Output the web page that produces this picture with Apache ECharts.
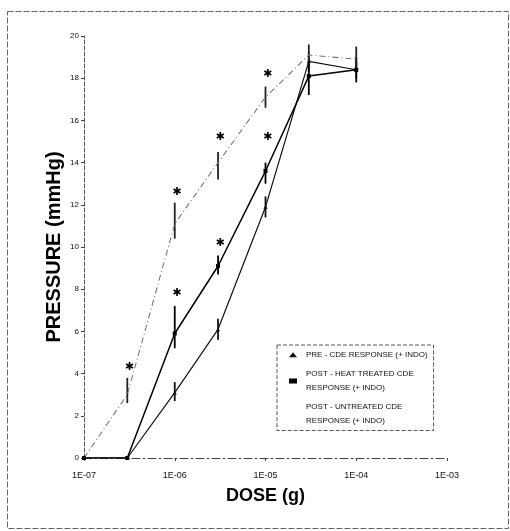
<!DOCTYPE html>
<html><head><meta charset="utf-8">
<script src="https://cdn.jsdelivr.net/npm/echarts@6/dist/echarts.min.js"></script>
<style>html,body{margin:0;padding:0;background:#fff}#c{width:510px;height:531px}</style>
</head><body><div id="c"></div>
<script>
// ---- data ----
const doses = [1e-7, 3e-7, 1e-6, 3e-6, 1e-5, 3e-5, 1e-4];
const xTickLabels = { '-7': '1E-07', '-6': '1E-06', '-5': '1E-05', '-4': '1E-04', '-3': '1E-03' };
const namePre = 'PRE - CDE RESPONSE (+ INDO)';
const nameHeat = 'POST - HEAT TREATED CDE\nRESPONSE (+ INDO)';
const nameUntreated = 'POST - UNTREATED CDE\nRESPONSE (+ INDO)';

const preMean = [0, 0, 3.1, 6.1, 11.9, 18.8, 18.4];
const preLow  = [null, null, 2.7, 5.6, 11.4, 18.3, 18.0];
const preHigh = [null, null, 3.6, 6.6, 12.4, 19.2, 18.8];

const heatMean = [0, 0, 5.9, 9.1, 13.6, 18.1, 18.4];
const heatLow  = [null, null, 5.2, 8.7, 13.0, 17.2, 17.8];
const heatHigh = [null, null, 7.2, 9.6, 14.0, 18.9, 19.0];

const untrMean = [0, 3.0, 11.1, 14.0, 17.1, 19.1, 18.9];
const untrLow  = [null, 2.6, 10.4, 13.2, 16.6, 18.7, 18.3];
const untrHigh = [null, 3.8, 12.1, 14.5, 17.6, 19.6, 19.5];

const starDose  = [3e-7, 1e-6, 1e-6, 3e-6, 3e-6, 1e-5, 1e-5];
const starValue = [4.3, 12.6, 7.8, 15.2, 10.2, 18.2, 15.2];

// ---- helpers ----
const pairs = (m) => doses.map((d, i) => [d, m[i]]);
const errData = (lo, hi) => doses.map((d, i) => [d, lo[i], hi[i]]).filter(r => r[1] != null);
function errSeries(lo, hi, color) {
  return {
    type: 'custom', data: errData(lo, hi), silent: true, z: 3,
    renderItem: function (params, api) {
      const p1 = api.coord([api.value(0), api.value(1)]);
      const p2 = api.coord([api.value(0), api.value(2)]);
      return { type: 'line', shape: { x1: p1[0], y1: p1[1], x2: p2[0], y2: p2[1] },
               style: { stroke: color, lineWidth: 1.8 } };
    }
  };
}
const font = 'Liberation Sans, Arial, sans-serif';

const chart = echarts.init(document.getElementById('c'), null, { renderer: 'canvas' });
chart.setOption({
  animation: false,
  backgroundColor: '#fff',
  grid: { left: 84, right: 63, top: 36, bottom: 73, containLabel: false },
  xAxis: {
    type: 'log', logBase: 10, min: 1e-7, max: 1e-3,
    name: 'DOSE (g)', nameLocation: 'middle', nameGap: 29, nameMoveOverlap: false,
    nameTextStyle: { fontFamily: font, fontWeight: 'bold', fontSize: 18, color: '#000' },
    axisLine: { lineStyle: { color: '#444', width: 1, type: [8, 3, 2, 3] } },
    axisTick: { show: true, length: 3, lineStyle: { color: '#444' } },
    minorTick: { show: false },
    splitLine: { show: false },
    axisLabel: {
      fontFamily: font, fontSize: 9, color: '#111', margin: 13,
      formatter: (v) => xTickLabels[String(Math.round(Math.log10(v)))] || ''
    }
  },
  yAxis: {
    type: 'value', min: 0, max: 20, interval: 2,
    name: 'PRESSURE (mmHg)', nameLocation: 'middle', nameGap: 20, nameMoveOverlap: false,
    nameTextStyle: { fontFamily: font, fontWeight: 'bold', fontSize: 20, color: '#000' },
    axisLine: { show: true, lineStyle: { color: '#555', width: 1, type: [4, 2] } },
    axisTick: { show: true, length: 3, lineStyle: { color: '#444' } },
    splitLine: { show: false },
    axisLabel: { fontFamily: font, fontSize: 8, color: '#111', margin: 5 }
  },
  legend: {
    orient: 'vertical', left: 277, top: 345,
    padding: [3, 6, 3, 12], itemGap: 6, itemWidth: 8, itemHeight: 5,
    borderColor: '#555', borderWidth: 1, borderType: 'dashed',
    textStyle: { fontFamily: font, fontSize: 8, color: '#111', lineHeight: 13.5, padding: [0, 0, 0, 4] },
    data: [
      { name: namePre, icon: 'triangle' },
      { name: nameHeat, icon: 'rect' },
      { name: nameUntreated, icon: 'none' }
    ]
  },
  graphic: [
    { type: 'rect', shape: { x: 7.5, y: 11.5, width: 501, height: 517 },
      style: { fill: 'none', stroke: '#666', lineWidth: 1, lineDash: [6, 2] }, silent: true }
  ],
  series: [
    { name: namePre, type: 'line', data: pairs(preMean), symbol: 'triangle', symbolSize: 4,
      itemStyle: { color: '#111' }, lineStyle: { color: '#111', width: 1.2 }, z: 4 },
    { name: nameHeat, type: 'line', data: pairs(heatMean), symbol: 'rect', symbolSize: 4,
      itemStyle: { color: '#000' }, lineStyle: { color: '#000', width: 1.5 }, z: 4 },
    { name: nameUntreated, type: 'line', data: pairs(untrMean), symbol: 'none',
      itemStyle: { color: '#777' }, lineStyle: { color: '#777', width: 1.1, type: [6, 3, 1, 3] }, z: 4 },
    errSeries(preLow, preHigh, '#111'),
    errSeries(heatLow, heatHigh, '#000'),
    errSeries(untrLow, untrHigh, '#222'),
    {
      type: 'custom', data: starDose.map((d, i) => [d, starValue[i]]), silent: true, z: 5,
      renderItem: function (params, api) {
        const p = api.coord([api.value(0), api.value(1)]);
        return { type: 'text', x: p[0] + 2, y: p[1],
                 style: { text: '✱', fontFamily: 'DejaVu Sans', fontSize: 11,
                          fill: '#000', align: 'center', verticalAlign: 'middle' } };
      }
    }
  ]
});
</script></body></html>
